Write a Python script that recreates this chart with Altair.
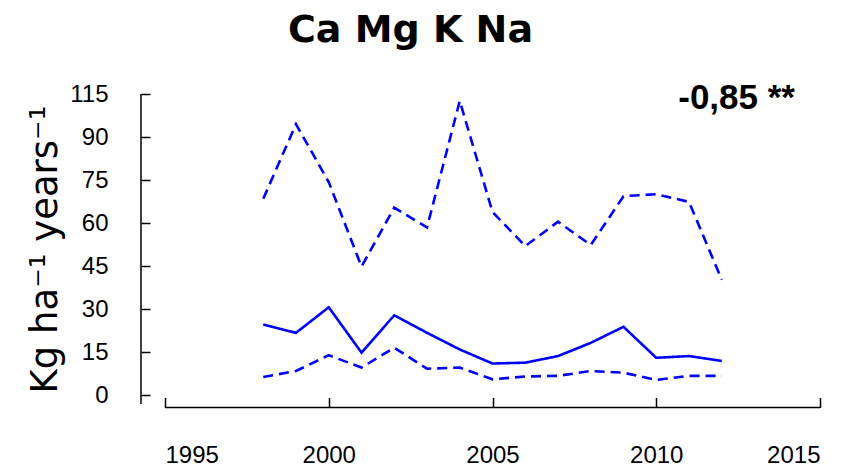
import altair as alt
import pandas as pd

# ---- data ----
years = list(range(1998, 2013))
upper = [68.5, 94.5, 74.3, 44.9, 65.4, 58.5, 102.6, 63.9, 52.0, 60.5, 52.4, 69.4, 70.1, 67.4, 40.3]
middle = [24.7, 21.8, 30.7, 14.9, 27.9, 21.8, 16.0, 11.1, 11.4, 13.7, 18.3, 23.9, 13.1, 13.7, 12.0]
lower = [6.4, 8.5, 14.0, 9.7, 16.6, 9.3, 9.7, 5.6, 6.6, 6.8, 8.5, 7.9, 5.4, 6.8, 6.8]

series_names = ["upper", "middle", "lower"]
series_dash = [[10, 6], [1, 0], [10, 6]]

x_ticks = [1995, 2000, 2005, 2010, 2015]
y_ticks = [0, 15, 30, 45, 60, 75, 90, 105]
y_tick_labels = ["0", "15", "30", "45", "60", "75", "90", "115"]

title_text = "Ca Mg K Na"
y_title = "Kg ha⁻¹ years⁻¹"
annotation = "-0,85 **"

rows = []
for name, vals in zip(series_names, [upper, middle, lower]):
    for yr, v in zip(years, vals):
        rows.append({"year": yr, "value": v, "series": name})
df = pd.DataFrame(rows)

W, H = 655, 310

label_expr = " : ".join(
    [f"datum.value == {v} ? '{l}'" for v, l in zip(y_ticks, y_tick_labels)]
) + " : datum.label"

x_scale = alt.Scale(domain=[1995, 2015], nice=False, zero=False)
y_scale = alt.Scale(domain=[-3, 105], nice=False, zero=False)

lines = alt.Chart(df).mark_line(color="#0000FF", strokeWidth=2.6).encode(
    x=alt.X("year:Q", scale=x_scale,
            axis=alt.Axis(values=x_ticks, format="d", title=None, offset=-6.5,
                          tickSize=10, labelPadding=36, labelFontSize=24,
                          labelFont="Liberation Sans", labelColor="black",
                          domain=False, grid=False, tickColor="black", tickWidth=1.5)),
    y=alt.Y("value:Q", scale=y_scale,
            axis=alt.Axis(values=y_ticks, labelExpr=label_expr, title=y_title,
                          offset=15, tickSize=9, labelPadding=33, labelFontSize=24,
                          labelFont="Liberation Sans", labelColor="black",
                          titleFont="DejaVu Sans", titleFontSize=37,
                          titleFontWeight="normal", titleColor="black",
                          titlePadding=5, domain=False, grid=False,
                          tickColor="black", tickWidth=1.5)),
    strokeDash=alt.StrokeDash("series:N",
                              scale=alt.Scale(domain=series_names, range=series_dash),
                              legend=None),
    detail="series:N",
)

one = pd.DataFrame({"k": [0]})
y_domain_line = alt.Chart(one).mark_rule(color="black", strokeWidth=1.5).encode(
    x=alt.value(-24), y=alt.value(0), y2=alt.value(H)
)
x_domain_line = alt.Chart(one).mark_rule(color="black", strokeWidth=1.5).encode(
    x=alt.value(0), x2=alt.value(W), y=alt.value(H + 3.5)
)
annot = alt.Chart(one).mark_text(
    text=annotation, align="right", baseline="alphabetic",
    font="Liberation Sans", fontSize=35, fontWeight="bold", color="black"
).encode(x=alt.value(630), y=alt.value(15))

chart = alt.layer(lines, y_domain_line, x_domain_line, annot).properties(
    width=W, height=H,
    title=alt.TitleParams(title_text, font="DejaVu Sans", fontSize=38,
                          fontWeight="bold", anchor="middle", frame="group",
                          dx=-82, offset=1, baseline="alphabetic", color="black"),
    autosize=alt.AutoSizeParams(type="none"),
    padding={"left": 157, "top": 86, "right": 24, "bottom": 64},
).configure_view(stroke=None)

chart.save("out.html", embed_options={"renderer": "svg", "actions": False})
